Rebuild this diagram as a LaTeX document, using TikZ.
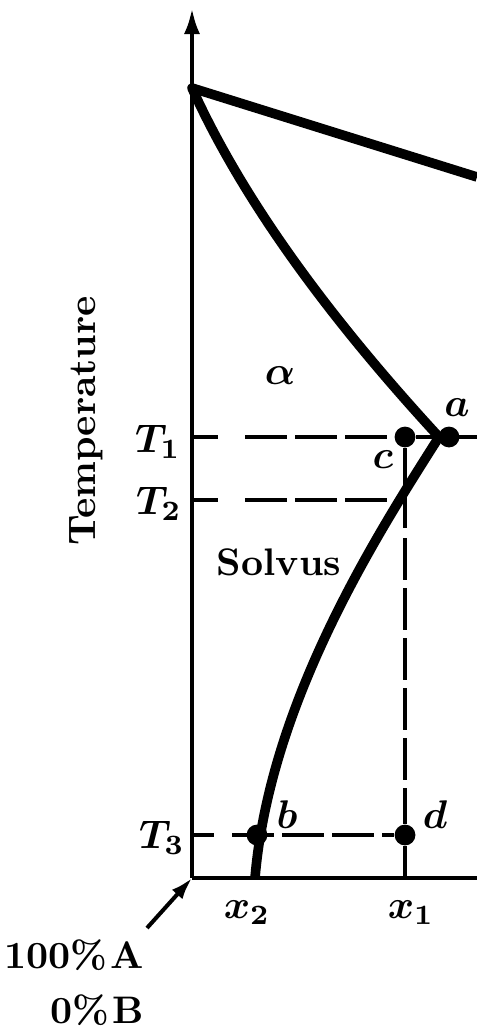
\documentclass[tikz,border=0pt]{standalone}
\usepackage{fontspec}
\usepackage{bm}
\usetikzlibrary{arrows.meta}
\begin{document}
\begin{tikzpicture}[x=0.25pt,y=-0.25pt,
  thickcurve/.style={line width=2.4pt, line join=round},
  axisline/.style={line width=1.1pt},
  guide/.style={line width=0.85pt},
  guidedash/.style={guide, dash pattern=on 10.5pt off 2pt},
  dot/.style={circle, fill=black, inner sep=0pt, minimum size=5.2pt},
  lbl/.style={font=\fontsize{10}{12}\selectfont\bfseries\boldmath, inner sep=0pt},
  txt/.style={font=\fontsize{9.6}{12}\selectfont\bfseries, inner sep=0pt}]
\useasboundingbox (0,0) rectangle (477,1028);
% key points
\coordinate (O) at (192,878);
\coordinate (top) at (192,8);
\coordinate (xend) at (477,878);
\coordinate (melt) at (192,88);
\coordinate (liqend) at (477,177);
\coordinate (j) at (439,437);
\coordinate (solvbot) at (255,878);
\coordinate (t1e) at (477,437);
\coordinate (s2) at (403,500);
\coordinate (x1bot) at (405,878);
\coordinate (arrtail) at (147,928);
% axes
\draw[axisline,-{Latex[length=6.5pt,width=4pt]}] (O) -- (top);
\draw[axisline] (O) -- (xend);
% guide lines
\node[dot] (c) at (405,437) {};
\node[dot] (a) at (449,437) {};
\node[dot] (b) at (257,835) {};
\node[dot] (d) at (405,835) {};
\draw[guide] (192,437) -- (218,437);
\draw[guidedash] (245,437) -- (c);
\draw[guide] (c) -- (t1e);
\draw[guide] (192,500) -- (218,500);
\draw[guidedash] (245,500) -- (s2);
\draw[guide] (192,835) -- (214,835);
\draw[guidedash] (232,835) -- (d);
\draw[guide] (c) -- (405,528);
\draw[guidedash] (405,538) -- (d);
\draw[guide] (d) -- (x1bot);
% phase boundaries
\draw[thickcurve] (liqend) -- (melt) .. controls (240,194) and (322,310) .. (j)
  .. controls (380,530) and (270,700) .. (solvbot);
% labels
\node[txt, rotate=90] (temp) at (86,421) {Temperature};
\node[lbl] (alpha) at (280,376) {$\alpha$};
\node[lbl] (la) at (457,408) {$a$};
\node[lbl] (lc) at (383,460) {$c$};
\node[lbl] (lb) at (287,815) {$b$};
\node[lbl] (ld) at (435,815) {$d$};
\node[lbl] (T1) at (158,442) {$T_1$};
\node[lbl] (T2) at (159,504) {$T_2$};
\node[lbl] (T3) at (162,838) {$T_3$};
\node[txt] (solvus) at (279,562) {Solvus};
\node[lbl] (x2) at (247,913) {$x_2$};
\node[lbl] (x1) at (411,913) {$x_1$};
\node[txt, anchor=east] (A100) at (145,955) {100\%\kern0.8pt A};
\node[txt, anchor=east] (B0) at (145,1010) {0\%\kern0.8pt B};
\draw[line width=1pt, -{Latex[length=5.5pt,width=3.5pt]}] (arrtail) -- (O);
\end{tikzpicture}
\end{document}
